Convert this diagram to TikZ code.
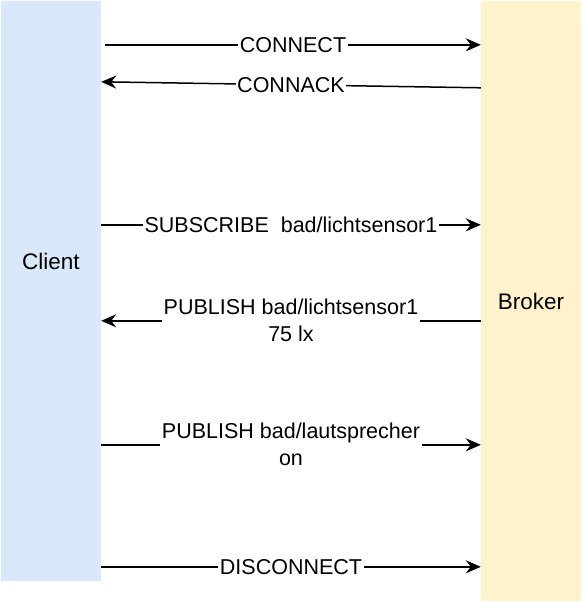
\documentclass[tikz,border=0pt]{standalone}
\usepackage{fontspec}
\setmainfont{Liberation Sans}
\usetikzlibrary{arrows.meta}
\definecolor{clientfill}{HTML}{DAE8FC}
\definecolor{brokerfill}{HTML}{FFF2CC}
\tikzset{
  lane/.style={draw=none, minimum width=100pt, inner sep=0pt},
  lanefont/.style={font=\fontsize{22.5}{26}\selectfont},
  msg/.style={line width=1.5pt, -{Stealth[length=15pt,width=13pt,inset=5pt]}},
  msglabel/.style={fill=white, inner sep=1.5pt, align=center, font=\fontsize{21.5}{27}\selectfont}
}
\begin{document}
\begin{tikzpicture}[x=1pt,y=-1pt]
\useasboundingbox (0,0) rectangle (584,602);
\node[lane, fill=clientfill, minimum height=580pt, label={[lanefont, yshift=30pt]center:Client}] (client) at (51,291) {};
\node[lane, fill=brokerfill, minimum height=600pt, lanefont] (broker) at (531,301) {Broker};
\draw[msg] ([shift={(4pt,-44pt)}]client.north east) -- node[msglabel]{CONNECT} ([yshift=-44pt]broker.north west);
\draw[msg] ([yshift=-87pt]broker.north west) -- node[msglabel]{CONNACK} ([yshift=-81pt]client.north east);
\draw[msg] ([yshift=-224pt]client.north east) -- node[msglabel]{SUBSCRIBE\ \ bad/lichtsensor1} ([yshift=-224pt]broker.north west);
\draw[msg] ([yshift=-320pt]broker.north west) -- node[msglabel]{PUBLISH bad/lichtsensor1\\75 lx} ([yshift=-320pt]client.north east);
\draw[msg] ([yshift=-444pt]client.north east) -- node[msglabel]{PUBLISH bad/lautsprecher\\on} ([yshift=-444pt]broker.north west);
\draw[msg] ([yshift=-566pt]client.north east) -- node[msglabel]{DISCONNECT} ([yshift=-566pt]broker.north west);
\end{tikzpicture}
\end{document}
